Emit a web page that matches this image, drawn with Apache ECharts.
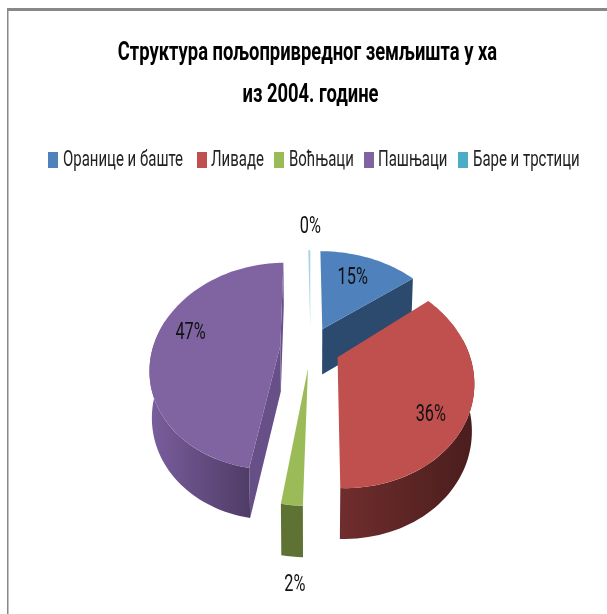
<!DOCTYPE html>
<html><head><meta charset="utf-8">
<style>html,body{margin:0;padding:0;background:#fff}#c{width:607px;height:614px}</style>
<script src="https://cdn.jsdelivr.net/npm/echarts@6/dist/echarts.min.js"></script>
</head><body><div id="c"></div>
<script>
const TITLE_LINES = ['Структура пољопривредног земљишта у ха', 'из 2004. године'];
const CATEGORIES = ['Оранице и баште', 'Ливаде', 'Воћњаци', 'Пашњаци', 'Баре и трстици'];
const SHARES = [14.6, 35.8, 2.0, 47.3, 0.3];
const TOP_COLORS = ['#4f81bd', '#c0504d', '#9bbb59', '#8064a2', '#a8d4e2'];
const LEGEND_COLORS = ['#4f81bd', '#c0504d', '#9bbb59', '#8064a2', '#4bacc6'];
const FACE_COLORS = ['#2c4a6d', '#6e2b2b', '#5e7233', '#674f87', '#a8d4e2'];
const WALL_LEFT = ['#2c4a6d', '#702d2d', '#5e7233', '#7a5e9e', '#a8d4e2'];
const WALL_RIGHT = ['#2c4a6d', '#4a1d1d', '#5e7233', '#4f3c66', '#a8d4e2'];
const DRAW_ORDER = [4, 0, 3, 1, 2];

// projection of the tilted disc
const CX = 310.5, CY = 347, RX = 134, RY = 100, PERSP = 0.2;
const EXPLODE = [0.206, 0.222, 0.206, 0.226, 0.2];
const SCALE_X = [1, 0.97, 1, 0.95, 1];
const SHOW_FACES = [[0, 1], [0, 0], [0, 0], [1, 1], [0, 0]];
const HEIGHT_BASE = 29, HEIGHT_SCALE = 17, BOTTOM_SHRINK = 0.985;
// label anchor: radius along bisector plus a pixel tweak
const LABEL_LAYOUT = [[0.7, -4, 1], [0.75, -7, 20], [1.0, 3, 80], [0.72, 5, -8], [1.0, 1, -23]];
// condensed text layout (reference type is tall and squeezed)
const LEGEND_SWATCH_X = [48, 197, 274, 364, 458];
const LEGEND_TEXT_X = [63, 211, 289, 378, 473];
const LEGEND_Y = 160, SWATCH_W = 10, SWATCH_H = 16;
const TITLE_X = [307.5, 310.5], TITLE_Y = [53, 95];

const total = SHARES.reduce((a, b) => a + b, 0);
const rad = d => d * Math.PI / 180;
function angles(i) {
  let s = 0;
  for (let k = 0; k < i; k++) s += SHARES[k];
  return [s / total * 360, (s + SHARES[i]) / total * 360];
}
function proj(X, Y) {
  const s = 1 / (1 - PERSP * Y);
  return { x: CX + RX * X * s, y: CY + RY * Y * s, s };
}
function lower(p) {
  return [CX + (p.x - CX) * BOTTOM_SHRINK, p.y + HEIGHT_BASE + HEIGHT_SCALE * p.s];
}
const SOFT = { shadowBlur: 1.5, shadowColor: 'rgba(0,0,0,0.35)' };
function renderSlice(i) {
  return function (params, api) {
    const share = api.value(0);
    const [a0] = angles(i);
    const a1 = a0 + share / total * 360;
    const mid = rad((a0 + a1) / 2);
    const e = EXPLODE[i];
    const ax = Math.sin(mid) * e, ay = -Math.cos(mid) * e;
    const rim = (deg) => proj(ax + SCALE_X[i] * Math.sin(rad(deg)), ay - Math.cos(rad(deg)));
    const apex = proj(ax, ay);
    const kids = [];
    const face = deg => {
      const p = rim(deg);
      kids.push({ type: 'polygon', shape: { points: [[apex.x, apex.y], [p.x, p.y], lower(p), lower(apex)] },
        style: { fill: FACE_COLORS[i] } });
    };
    if (SHOW_FACES[i][1]) face(a1);
    if (SHOW_FACES[i][0]) face(a0);
    const w0 = Math.max(a0, 80), w1 = Math.min(a1, 285);
    if (w1 > w0) {
      const up = [], down = [];
      const n = Math.max(4, Math.ceil((w1 - w0) / 2));
      for (let k = 0; k <= n; k++) {
        const p = rim(w0 + (w1 - w0) * k / n);
        up.push([p.x, p.y]);
        down.unshift(lower(p));
      }
      kids.push({ type: 'polygon', shape: { points: up.concat(down) },
        style: { fill: new echarts.graphic.LinearGradient(0, 0, 1, 0, [
          { offset: 0, color: WALL_LEFT[i] }, { offset: 1, color: WALL_RIGHT[i] }]) } });
    }
    const top = [[apex.x, apex.y]];
    const n = Math.max(2, Math.ceil((a1 - a0) / 2));
    for (let k = 0; k <= n; k++) {
      const p = rim(a0 + (a1 - a0) * k / n);
      top.push([p.x, p.y]);
    }
    kids.push({ type: 'polygon', shape: { points: top }, style: { fill: TOP_COLORS[i] } });
    const [rho, dx, dy] = LABEL_LAYOUT[i];
    const lab = proj(ax + rho * Math.sin(mid), ay - rho * Math.cos(mid));
    kids.push({ type: 'text', z2: 10, x: lab.x + dx, y: lab.y + dy, scaleX: 0.68,
      style: Object.assign({ text: Math.round(share / total * 100) + '%', x: 0, y: 0,
        font: '24px Roboto', fill: '#111', align: 'center', verticalAlign: 'middle' }, SOFT) });
    return { type: 'group', children: kids };
  };
}
const frame = [
  { type: 'rect', silent: true, shape: { x: 7, y: 8, width: 600, height: 3 }, style: { fill: '#888' } },
  { type: 'rect', silent: true, shape: { x: 7, y: 8, width: 1.5, height: 606 }, style: { fill: '#888' } }
];
const titleText = TITLE_LINES.map((t, k) => ({
  type: 'text', silent: true, x: TITLE_X[k], y: TITLE_Y[k], scaleX: 0.707,
  style: Object.assign({ text: t, x: 0, y: 0, font: 'bold 26px Roboto', fill: '#000', align: 'center', verticalAlign: 'middle' }, SOFT)
}));
const legendMarks = CATEGORIES.flatMap((name, i) => [
  { type: 'rect', silent: true, shape: { x: LEGEND_SWATCH_X[i], y: LEGEND_Y - SWATCH_H / 2, width: SWATCH_W, height: SWATCH_H },
    style: { fill: LEGEND_COLORS[i] } },
  { type: 'text', silent: true, x: LEGEND_TEXT_X[i], y: LEGEND_Y, scaleX: 0.665,
    style: Object.assign({ text: name, x: 0, y: 0, font: '22.5px Roboto', fill: '#222', align: 'left', verticalAlign: 'middle' }, SOFT) }
]);
const chart = echarts.init(document.getElementById('c'), null, { renderer: 'canvas' });
chart.setOption({
  animation: false,
  backgroundColor: '#fff',
  graphic: frame.concat(titleText, legendMarks),
  series: DRAW_ORDER.map(i => ({
    type: 'custom', name: CATEGORIES[i], coordinateSystem: 'none', silent: true,
    itemStyle: { color: LEGEND_COLORS[i] },
    data: [[SHARES[i]]], renderItem: renderSlice(i), encode: {}
  }))
});
</script></body></html>
